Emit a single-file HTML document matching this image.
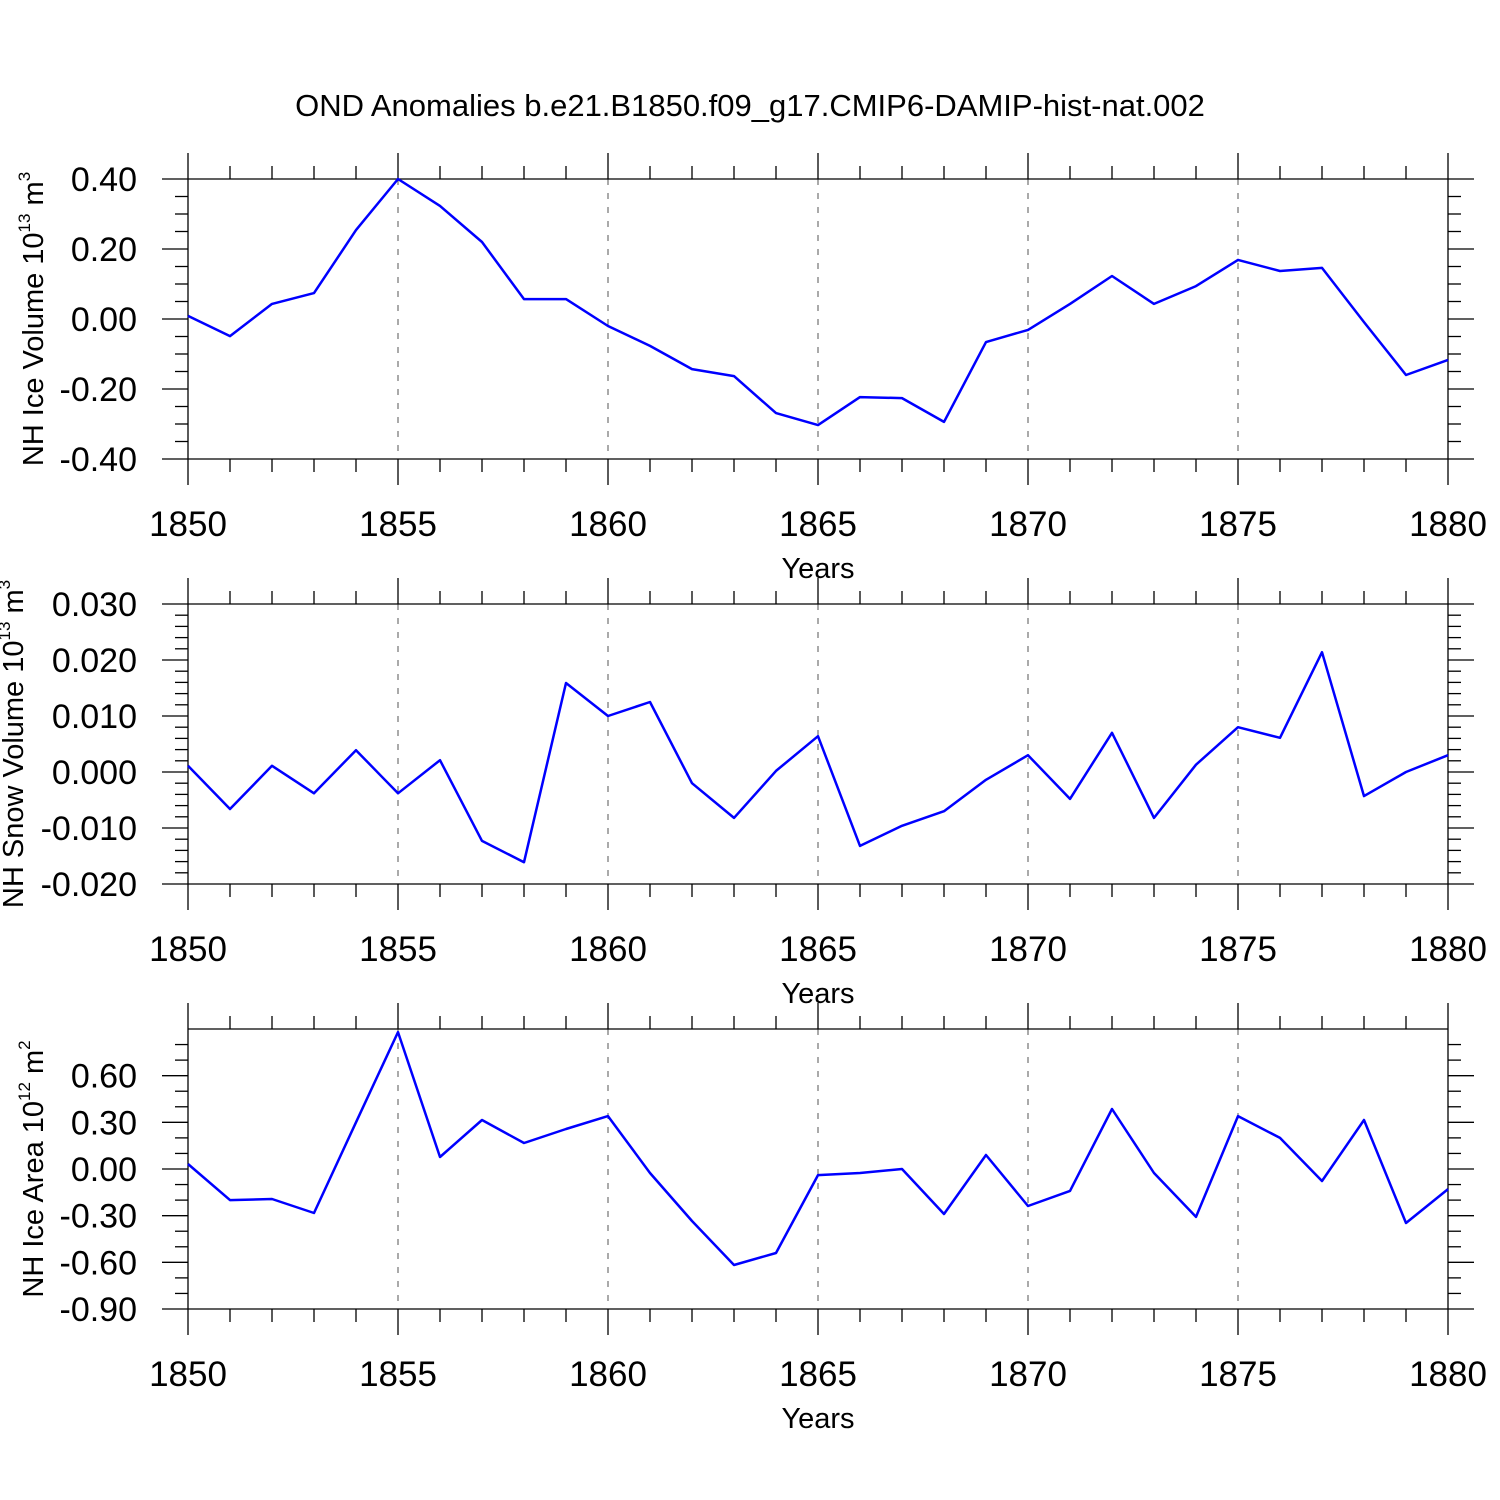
<!DOCTYPE html>
<html><head><meta charset="utf-8"><style>
body{margin:0;background:#fff}
svg{display:block;font-family:"Liberation Sans",Arial,sans-serif}
</style></head><body>
<svg id="chart" width="1500" height="1500" viewBox="0 0 1500 1500" xmlns="http://www.w3.org/2000/svg">
<rect width="1500" height="1500" fill="#fff"/>
<text x="750" y="116" font-size="31" text-anchor="middle">OND Anomalies b.e21.B1850.f09_g17.CMIP6-DAMIP-hist-nat.002</text>
</svg>
<script>
const years = [1850,1851,1852,1853,1854,1855,1856,1857,1858,1859,1860,1861,1862,1863,1864,1865,1866,1867,1868,1869,1870,1871,1872,1873,1874,1875,1876,1877,1878,1879,1880];
const iceVolume = [0.009,-0.049,0.043,0.074,0.254,0.40,0.323,0.22,0.057,0.057,-0.02,-0.077,-0.143,-0.163,-0.269,-0.303,-0.223,-0.226,-0.294,-0.066,-0.031,0.043,0.123,0.043,0.094,0.169,0.137,0.146,-0.009,-0.16,-0.117];
const snowVolume = [0.0011,-0.0066,0.0011,-0.0038,0.0039,-0.0038,0.0021,-0.0123,-0.0161,0.0159,0.0100,0.0125,-0.002,-0.0082,0.0002,0.0064,-0.0132,-0.0096,-0.007,-0.0014,0.003,-0.0048,0.007,-0.0082,0.0013,0.008,0.0061,0.0214,-0.0043,0.0,0.003];
const iceArea = [0.032,-0.2,-0.193,-0.283,0.30,0.88,0.077,0.315,0.167,0.257,0.34,-0.026,-0.334,-0.617,-0.54,-0.039,-0.026,0.0,-0.289,0.09,-0.238,-0.141,0.386,-0.026,-0.308,0.34,0.2,-0.077,0.315,-0.347,-0.129];
const xTicks = [1850,1855,1860,1865,1870,1875,1880];
const iceVolTicks = ["0.40","0.20","0.00","-0.20","-0.40"];
const snowTicks = ["0.030","0.020","0.010","0.000","-0.010","-0.020"];
const areaTicks = ["0.60","0.30","0.00","-0.30","-0.60","-0.90"];

const svg = document.getElementById('chart');
const NS = 'http://www.w3.org/2000/svg';
function mk(tag, attrs, parent){const e=document.createElementNS(NS,tag);for(const k in attrs)e.setAttribute(k,attrs[k]);(parent||svg).appendChild(e);return e;}
const X0=188,X1=1448;
const xs = y => X0 + (y-1850)*(X1-X0)/30;

function panel(name, top, bot, ymin, ymax, minorStep, ticks, data, title, sup, unit, titleX){
  const g = mk('g',{});
  
  
  const ys = v => bot - (v-ymin)*(bot-top)/(ymax-ymin);
  const st = {stroke:'#000','stroke-width':1.3};
  xTicks.forEach(t=>{ if(t>1850&&t<1880){ const l=mk('line',{x1:xs(t),x2:xs(t),y1:top,y2:bot,stroke:'#555','stroke-width':1,'stroke-dasharray':'6,8'},g);   }});
  mk('line',Object.assign({x1:X0,x2:X1,y1:top,y2:top},st),g);
  mk('line',Object.assign({x1:X0,x2:X1,y1:bot,y2:bot},st),g);
  mk('line',Object.assign({x1:X0,x2:X0,y1:top,y2:bot},st),g);
  mk('line',Object.assign({x1:X1,x2:X1,y1:top,y2:bot},st),g);
  years.forEach(t=>{
    const major = xTicks.includes(t); const L = major?26:13;
    mk('line',Object.assign({x1:xs(t),x2:xs(t),y1:top-L,y2:top},st),g);
    mk('line',Object.assign({x1:xs(t),x2:xs(t),y1:bot,y2:bot+L},st),g);
  });
  xTicks.forEach(t=>{ const tx=mk('text',{x:xs(t),y:bot+77,'font-size':35,'text-anchor':'middle'},g); tx.textContent=t;   });
  const n = Math.round((ymax-ymin)/minorStep);
  const majorVals = ticks.map(Number);
  for(let i=0;i<=n;i++){
    const v = ymin + i*minorStep; const isMaj = majorVals.some(m=>Math.abs(m-v)<minorStep/10);
    if(!isMaj && (i===0||i===n)) continue;
    const L = isMaj?26:13;
    mk('line',Object.assign({x1:X0-L,x2:X0,y1:ys(v),y2:ys(v)},st),g);
    mk('line',Object.assign({x1:X1,x2:X1+L,y1:ys(v),y2:ys(v)},st),g);
  }
  ticks.forEach(s=>{ const tx=mk('text',{x:X0-51,y:ys(Number(s))+12,'font-size':34,'text-anchor':'end'},g); tx.textContent=s;   });
  const xt=mk('text',{x:818,y:bot+119,'font-size':29,'text-anchor':'middle'},g); xt.textContent='Years';
   
  const cy=(top+bot)/2;
  const yt=mk('text',{x:0,y:0,'font-size':29,'text-anchor':'middle',transform:`translate(${titleX},${cy}) rotate(-90)`},g);
   
  yt.appendChild(document.createTextNode(title+' 10'));
  const s1=mk('tspan',{'font-size':17,dy:-13},yt); s1.textContent=sup;
  const s2=mk('tspan',{dy:13},yt); s2.textContent=' m';
  const s3=mk('tspan',{'font-size':17,dy:-13},yt); s3.textContent=unit;
  const pts = data.map((v,i)=>xs(years[i]).toFixed(1)+','+ys(v).toFixed(1)).join(' ');
  const pl=mk('polyline',{points:pts,fill:'none',stroke:'#0000ff','stroke-width':2.5,'stroke-linejoin':'round'},g);
   
}
panel('ice-volume',179,459,-0.4,0.4,0.05,iceVolTicks,iceVolume,'NH Ice Volume','13','3',43);
panel('snow-volume',604,884,-0.02,0.03,0.002,snowTicks,snowVolume,'NH Snow Volume','13','3',23);
panel('ice-area',1029,1309,-0.9,0.9,0.1,areaTicks,iceArea,'NH Ice Area','12','2',43);
</script>
</body></html>
